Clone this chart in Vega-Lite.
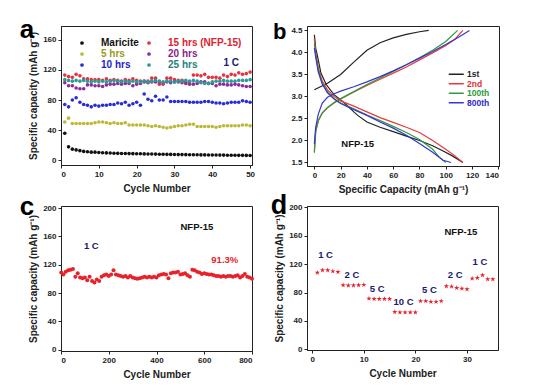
{
  "$schema": "https://vega.github.io/schema/vega-lite/v6.json",
  "padding": {"left": 19, "top": 16, "right": 5, "bottom": 5},
  "background": "white",
  "config": {
    "font": "Liberation Sans",
    "view": {"stroke": "#222", "strokeWidth": 1},
    "axis": {"labelFont": "Liberation Sans", "labelFontWeight": "bold", "labelFontSize": 8, "labelColor": "#222", "titleFont": "Liberation Sans", "titleFontWeight": "bold", "titleFontSize": 10, "titleColor": "#222", "domainColor": "#222", "tickColor": "#222", "tickSize": 3, "ticks": true, "grid": false, "labelPadding": 2, "labelOverlap": false, "tickCount": 20},
    "axisY": {"titlePadding": 4},
    "axisX": {"titlePadding": 5},
    "title": {"font": "Liberation Sans", "fontWeight": "bold", "color": "#000"}
  },
  "datasets": {
    "pa": [
      {"c":1,"M":36,"h5":51,"h10":74,"h15":113,"h20":103,"h25":107},
      {"c":2,"M":18,"h5":56,"h10":71,"h15":111,"h20":99,"h25":106},
      {"c":3,"M":15,"h5":49,"h10":80,"h15":110,"h20":99,"h25":105},
      {"c":4,"M":14,"h5":49,"h10":83,"h15":114,"h20":96,"h25":106},
      {"c":5,"M":13,"h5":49,"h10":77,"h15":112,"h20":95,"h25":105},
      {"c":6,"M":12,"h5":49,"h10":74,"h15":108,"h20":95,"h25":106},
      {"c":7,"M":11.5,"h5":49,"h10":73,"h15":108,"h20":100,"h25":105},
      {"c":8,"M":11,"h5":49,"h10":71,"h15":107,"h20":100,"h25":104},
      {"c":9,"M":11,"h5":50,"h10":73,"h15":107,"h20":99,"h25":105},
      {"c":10,"M":10.5,"h5":51,"h10":72,"h15":107,"h20":99,"h25":104},
      {"c":11,"M":10.2,"h5":51,"h10":73,"h15":106,"h20":98,"h25":105},
      {"c":12,"M":10,"h5":50,"h10":73,"h15":108,"h20":100,"h25":104},
      {"c":13,"M":9.8,"h5":49,"h10":74,"h15":106,"h20":101,"h25":105},
      {"c":14,"M":9.6,"h5":50,"h10":74,"h15":107,"h20":101,"h25":106},
      {"c":15,"M":9.4,"h5":49,"h10":76,"h15":106,"h20":102,"h25":105},
      {"c":16,"M":9.3,"h5":49,"h10":75,"h15":105,"h20":101,"h25":104},
      {"c":17,"M":9.2,"h5":50,"h10":77,"h15":107,"h20":102,"h25":105},
      {"c":18,"M":9.1,"h5":47,"h10":73,"h15":106,"h20":102,"h25":104},
      {"c":19,"M":9,"h5":47,"h10":75,"h15":108,"h20":99,"h25":105},
      {"c":20,"M":8.9,"h5":47,"h10":77,"h15":106,"h20":101,"h25":104},
      {"c":21,"M":8.8,"h5":47,"h10":73,"h15":105,"h20":102,"h25":104},
      {"c":22,"M":8.7,"h5":47,"h10":88,"h15":105,"h20":104,"h25":105},
      {"c":23,"M":8.6,"h5":46,"h10":81,"h15":105,"h20":103,"h25":104},
      {"c":24,"M":8.5,"h5":45,"h10":79,"h15":109,"h20":104,"h25":105},
      {"c":25,"M":8.4,"h5":46,"h10":85,"h15":109,"h20":104,"h25":106},
      {"c":26,"M":8.3,"h5":45,"h10":80,"h15":101,"h20":104,"h25":105},
      {"c":27,"M":8.2,"h5":44,"h10":80,"h15":101,"h20":103,"h25":104},
      {"c":28,"M":8.1,"h5":43,"h10":84,"h15":109,"h20":104,"h25":105},
      {"c":29,"M":8,"h5":44,"h10":78,"h15":109,"h20":103,"h25":105},
      {"c":30,"M":7.9,"h5":45,"h10":78,"h15":107,"h20":104,"h25":104},
      {"c":31,"M":7.8,"h5":46,"h10":78,"h15":106,"h20":104,"h25":105},
      {"c":32,"M":7.8,"h5":46,"h10":78,"h15":106,"h20":103,"h25":105},
      {"c":33,"M":7.7,"h5":47,"h10":78,"h15":104,"h20":102,"h25":106},
      {"c":34,"M":7.6,"h5":48,"h10":77,"h15":104,"h20":101,"h25":105},
      {"c":35,"M":7.6,"h5":48,"h10":77,"h15":113,"h20":101,"h25":106},
      {"c":36,"M":7.5,"h5":45,"h10":77,"h15":113,"h20":102,"h25":105},
      {"c":37,"M":7.4,"h5":45,"h10":77,"h15":112,"h20":104,"h25":103},
      {"c":38,"M":7.4,"h5":45,"h10":78,"h15":114,"h20":104,"h25":102},
      {"c":39,"M":7.3,"h5":45,"h10":78,"h15":110,"h20":102,"h25":102},
      {"c":40,"M":7.3,"h5":45,"h10":77,"h15":110,"h20":102,"h25":104},
      {"c":41,"M":7.2,"h5":44,"h10":76,"h15":110,"h20":99,"h25":105},
      {"c":42,"M":7.1,"h5":45,"h10":76,"h15":109,"h20":101,"h25":105},
      {"c":43,"M":7.1,"h5":46,"h10":75,"h15":113,"h20":101,"h25":106},
      {"c":44,"M":7,"h5":46,"h10":76,"h15":111,"h20":100,"h25":105},
      {"c":45,"M":7,"h5":46,"h10":77,"h15":114,"h20":100,"h25":105},
      {"c":46,"M":6.9,"h5":46,"h10":77,"h15":113,"h20":101,"h25":105},
      {"c":47,"M":6.8,"h5":46,"h10":77,"h15":116,"h20":100,"h25":106},
      {"c":48,"M":6.8,"h5":47,"h10":79,"h15":114,"h20":99,"h25":106},
      {"c":49,"M":6.7,"h5":47,"h10":78,"h15":115,"h20":98,"h25":106},
      {"c":50,"M":6.6,"h5":46,"h10":77,"h15":117,"h20":98,"h25":107}
    ],
    "pb": [
      {"s":"1st","k":"1c","x":0,"y":3.15},{"s":"1st","k":"1c","x":10,"y":3.3},{"s":"1st","k":"1c","x":20,"y":3.5},{"s":"1st","k":"1c","x":30,"y":3.78},{"s":"1st","k":"1c","x":40,"y":4.05},{"s":"1st","k":"1c","x":50,"y":4.22},{"s":"1st","k":"1c","x":60,"y":4.33},{"s":"1st","k":"1c","x":70,"y":4.41},{"s":"1st","k":"1c","x":80,"y":4.47},{"s":"1st","k":"1c","x":87,"y":4.5},
      {"s":"1st","k":"1d","x":0,"y":4.4},{"s":"1st","k":"1d","x":1,"y":4.1},{"s":"1st","k":"1d","x":2.5,"y":3.9},{"s":"1st","k":"1d","x":5,"y":3.53},{"s":"1st","k":"1d","x":9,"y":3.27},{"s":"1st","k":"1d","x":15,"y":3.04},{"s":"1st","k":"1d","x":23,"y":2.85},{"s":"1st","k":"1d","x":30,"y":2.65},{"s":"1st","k":"1d","x":33,"y":2.57},{"s":"1st","k":"1d","x":40,"y":2.42},{"s":"1st","k":"1d","x":50,"y":2.3},{"s":"1st","k":"1d","x":60,"y":2.2},{"s":"1st","k":"1d","x":70,"y":2.1},{"s":"1st","k":"1d","x":80,"y":2.0},{"s":"1st","k":"1d","x":90,"y":1.88},{"s":"1st","k":"1d","x":98,"y":1.76},{"s":"1st","k":"1d","x":105,"y":1.65},{"s":"1st","k":"1d","x":113,"y":1.5},
      {"s":"2nd","k":"2c","x":0,"y":1.75},{"s":"2nd","k":"2c","x":1,"y":2.2},{"s":"2nd","k":"2c","x":3,"y":2.45},{"s":"2nd","k":"2c","x":6,"y":2.62},{"s":"2nd","k":"2c","x":10,"y":2.74},{"s":"2nd","k":"2c","x":15,"y":2.85},{"s":"2nd","k":"2c","x":20,"y":2.94},{"s":"2nd","k":"2c","x":30,"y":3.1},{"s":"2nd","k":"2c","x":40,"y":3.25},{"s":"2nd","k":"2c","x":50,"y":3.39},{"s":"2nd","k":"2c","x":60,"y":3.53},{"s":"2nd","k":"2c","x":70,"y":3.67},{"s":"2nd","k":"2c","x":80,"y":3.83},{"s":"2nd","k":"2c","x":90,"y":3.99},{"s":"2nd","k":"2c","x":100,"y":4.16},{"s":"2nd","k":"2c","x":107,"y":4.3},{"s":"2nd","k":"2c","x":113,"y":4.5},
      {"s":"2nd","k":"2d","x":0,"y":4.3},{"s":"2nd","k":"2d","x":1,"y":4.0},{"s":"2nd","k":"2d","x":3,"y":3.65},{"s":"2nd","k":"2d","x":6,"y":3.35},{"s":"2nd","k":"2d","x":10,"y":3.15},{"s":"2nd","k":"2d","x":15,"y":3.0},{"s":"2nd","k":"2d","x":20,"y":2.9},{"s":"2nd","k":"2d","x":30,"y":2.78},{"s":"2nd","k":"2d","x":40,"y":2.65},{"s":"2nd","k":"2d","x":50,"y":2.52},{"s":"2nd","k":"2d","x":60,"y":2.41},{"s":"2nd","k":"2d","x":70,"y":2.3},{"s":"2nd","k":"2d","x":80,"y":2.18},{"s":"2nd","k":"2d","x":90,"y":2.0},{"s":"2nd","k":"2d","x":100,"y":1.8},{"s":"2nd","k":"2d","x":107,"y":1.65},{"s":"2nd","k":"2d","x":113,"y":1.5},
      {"s":"100th","k":"3c","x":0,"y":1.72},{"s":"100th","k":"3c","x":1,"y":2.2},{"s":"100th","k":"3c","x":3,"y":2.45},{"s":"100th","k":"3c","x":6,"y":2.63},{"s":"100th","k":"3c","x":10,"y":2.75},{"s":"100th","k":"3c","x":15,"y":2.86},{"s":"100th","k":"3c","x":20,"y":2.95},{"s":"100th","k":"3c","x":30,"y":3.11},{"s":"100th","k":"3c","x":40,"y":3.27},{"s":"100th","k":"3c","x":50,"y":3.42},{"s":"100th","k":"3c","x":60,"y":3.57},{"s":"100th","k":"3c","x":70,"y":3.72},{"s":"100th","k":"3c","x":80,"y":3.88},{"s":"100th","k":"3c","x":90,"y":4.05},{"s":"100th","k":"3c","x":100,"y":4.25},{"s":"100th","k":"3c","x":109,"y":4.5},
      {"s":"100th","k":"3d","x":0,"y":4.2},{"s":"100th","k":"3d","x":1,"y":3.95},{"s":"100th","k":"3d","x":3,"y":3.6},{"s":"100th","k":"3d","x":6,"y":3.3},{"s":"100th","k":"3d","x":10,"y":3.1},{"s":"100th","k":"3d","x":15,"y":2.95},{"s":"100th","k":"3d","x":20,"y":2.85},{"s":"100th","k":"3d","x":30,"y":2.72},{"s":"100th","k":"3d","x":40,"y":2.58},{"s":"100th","k":"3d","x":50,"y":2.45},{"s":"100th","k":"3d","x":60,"y":2.32},{"s":"100th","k":"3d","x":70,"y":2.18},{"s":"100th","k":"3d","x":80,"y":2.02},{"s":"100th","k":"3d","x":90,"y":1.8},{"s":"100th","k":"3d","x":95,"y":1.62},{"s":"100th","k":"3d","x":100,"y":1.5},
      {"s":"800th","k":"4c","x":0,"y":1.92},{"s":"800th","k":"4c","x":1,"y":2.3},{"s":"800th","k":"4c","x":3,"y":2.6},{"s":"800th","k":"4c","x":6,"y":2.85},{"s":"800th","k":"4c","x":10,"y":2.98},{"s":"800th","k":"4c","x":15,"y":3.06},{"s":"800th","k":"4c","x":20,"y":3.12},{"s":"800th","k":"4c","x":30,"y":3.22},{"s":"800th","k":"4c","x":40,"y":3.33},{"s":"800th","k":"4c","x":50,"y":3.45},{"s":"800th","k":"4c","x":60,"y":3.58},{"s":"800th","k":"4c","x":70,"y":3.72},{"s":"800th","k":"4c","x":80,"y":3.87},{"s":"800th","k":"4c","x":90,"y":4.02},{"s":"800th","k":"4c","x":100,"y":4.18},{"s":"800th","k":"4c","x":110,"y":4.35},{"s":"800th","k":"4c","x":118,"y":4.5},
      {"s":"800th","k":"4d","x":0,"y":4.1},{"s":"800th","k":"4d","x":1,"y":3.9},{"s":"800th","k":"4d","x":3,"y":3.55},{"s":"800th","k":"4d","x":6,"y":3.28},{"s":"800th","k":"4d","x":10,"y":3.08},{"s":"800th","k":"4d","x":15,"y":2.94},{"s":"800th","k":"4d","x":20,"y":2.84},{"s":"800th","k":"4d","x":30,"y":2.7},{"s":"800th","k":"4d","x":40,"y":2.57},{"s":"800th","k":"4d","x":50,"y":2.42},{"s":"800th","k":"4d","x":60,"y":2.28},{"s":"800th","k":"4d","x":70,"y":2.12},{"s":"800th","k":"4d","x":80,"y":1.93},{"s":"800th","k":"4d","x":90,"y":1.73},{"s":"800th","k":"4d","x":98,"y":1.55},{"s":"800th","k":"4d","x":104,"y":1.5}
    ],
    "pc": [
      {"c":1,"v":109},{"c":10,"v":106},{"c":20,"v":110},{"c":30,"v":112},{"c":40,"v":113},{"c":50,"v":114},{"c":60,"v":103},{"c":70,"v":108},{"c":80,"v":102},{"c":90,"v":101},
      {"c":100,"v":102},{"c":110,"v":98},{"c":120,"v":103},{"c":130,"v":97},{"c":140,"v":95},{"c":150,"v":99},{"c":160,"v":97},{"c":170,"v":103},{"c":180,"v":105},{"c":190,"v":106},
      {"c":200,"v":104},{"c":210,"v":106},{"c":220,"v":112},{"c":230,"v":106},{"c":240,"v":105},{"c":250,"v":104},{"c":260,"v":103},{"c":270,"v":104},{"c":280,"v":102},{"c":290,"v":104},
      {"c":300,"v":102},{"c":310,"v":101},{"c":320,"v":100},{"c":330,"v":101},{"c":340,"v":102},{"c":350,"v":103},{"c":360,"v":102},{"c":370,"v":103},{"c":380,"v":102},{"c":390,"v":103},
      {"c":400,"v":102},{"c":410,"v":105},{"c":420,"v":106},{"c":430,"v":107},{"c":440,"v":106},{"c":450,"v":101},{"c":460,"v":108},{"c":470,"v":109},{"c":480,"v":109},{"c":490,"v":110},
      {"c":500,"v":106},{"c":510,"v":107},{"c":520,"v":108},{"c":530,"v":105},{"c":540,"v":103},{"c":550,"v":113},{"c":560,"v":112},{"c":570,"v":110},{"c":580,"v":109},{"c":590,"v":107},
      {"c":600,"v":108},{"c":610,"v":107},{"c":620,"v":106},{"c":630,"v":106},{"c":640,"v":105},{"c":650,"v":104},{"c":660,"v":104},{"c":670,"v":103},{"c":680,"v":104},{"c":690,"v":103},
      {"c":700,"v":104},{"c":710,"v":104},{"c":720,"v":103},{"c":730,"v":104},{"c":740,"v":105},{"c":750,"v":102},{"c":760,"v":104},{"c":770,"v":107},{"c":780,"v":103},{"c":790,"v":102},{"c":800,"v":100}
    ],
    "pd": [
      {"c":1,"v":108},{"c":2,"v":111.5},{"c":3,"v":111.5},{"c":4,"v":110},{"c":5,"v":109},
      {"c":6,"v":90.5},{"c":7,"v":90},{"c":8,"v":90},{"c":9,"v":90.5},{"c":10,"v":91},
      {"c":11,"v":71.5},{"c":12,"v":71},{"c":13,"v":71},{"c":14,"v":71},{"c":15,"v":71},
      {"c":16,"v":52.7},{"c":17,"v":52},{"c":18,"v":52},{"c":19,"v":52},{"c":20,"v":52},
      {"c":21,"v":68},{"c":22,"v":68},{"c":23,"v":67},{"c":24,"v":67},{"c":25,"v":68},
      {"c":26,"v":89},{"c":27,"v":88.5},{"c":28,"v":86.6},{"c":29,"v":85.6},{"c":30,"v":84.7},
      {"c":31,"v":99.8},{"c":32,"v":100.7},{"c":33,"v":104.5},{"c":34,"v":98.8},{"c":35,"v":98.8}
    ]
  },
  "columns": 2,
  "spacing": {"row": 40, "column": 55},
  "bounds": "flush",
  "resolve": {"scale": {"color": "independent"}, "legend": {"color": "independent"}},
  "concat": [
    {
      "width": 191, "height": 139,
      "title": {"text": "a", "anchor": "start", "frame": "bounds", "fontSize": 26, "baseline": "alphabetic", "offset": -6, "dx": -9, "dy": 32},
      "layer": [
        {
          "data": {"name": "pa"},
          "transform": [{"fold": ["M", "h5", "h10", "h15", "h20", "h25"], "as": ["series", "cap"]}],
          "mark": {"type": "circle", "size": 13, "opacity": 1},
          "encoding": {
            "x": {"field": "c", "type": "quantitative", "scale": {"domain": [0, 50.5], "nice": false}, "axis": {"title": "Cycle Number", "values": [0, 10, 20, 30, 40, 50]}},
            "y": {"field": "cap", "type": "quantitative", "scale": {"domain": [-6, 178], "nice": false}, "axis": {"title": "Specific capacity (mAh g⁻¹)", "values": [0, 40, 80, 120, 160]}},
            "color": {"field": "series", "type": "nominal",
              "scale": {"domain": ["M", "h5", "h10", "h15", "h20", "h25"], "range": ["#111111", "#bdb83a", "#2b2bd6", "#e8313f", "#8e2a9e", "#2a9c94"]},
              "legend": {"orient": "none", "legendX": 16, "legendY": 12, "columns": 2, "title": null, "symbolType": "circle", "symbolSize": 14, "labelFontSize": 10, "labelFontWeight": "bold", "labelOffset": 14, "rowPadding": 1, "columnPadding": 5,
                "labelExpr": "datum.value == 'M' ? 'Maricite' : datum.value == 'h5' ? '5 hrs' : datum.value == 'h10' ? '10 hrs' : datum.value == 'h15' ? '15 hrs (NFP-15)' : datum.value == 'h20' ? '20 hrs' : '25 hrs'",
                "labelColor": {"expr": "datum.value == 'M' ? '#111111' : datum.value == 'h5' ? '#9a9a22' : datum.value == 'h10' ? '#1e1ecc' : datum.value == 'h15' ? '#e02030' : datum.value == 'h20' ? '#8a1e8a' : '#1f7f7a'"}}}
          }
        },
        {
          "data": {"values": [{"c": 45, "cap": 129, "t": "1 C"}]},
          "mark": {"type": "text", "fontSize": 10, "fontWeight": "bold", "color": "#1b1b6e"},
          "encoding": {"x": {"field": "c", "type": "quantitative"}, "y": {"field": "cap", "type": "quantitative"}, "text": {"field": "t"}}
        }
      ]
    },
    {
      "width": 192, "height": 140,
      "title": {"text": "b", "anchor": "start", "frame": "bounds", "fontSize": 22, "baseline": "alphabetic", "offset": -4, "dx": -18, "dy": 31},
      "layer": [
        {
          "data": {"name": "pb"},
          "mark": {"type": "line", "strokeWidth": 1.2},
          "encoding": {
            "x": {"field": "x", "type": "quantitative", "scale": {"domain": [-5.6, 140.5], "nice": false}, "axis": {"title": "Specific Capacity (mAh g⁻¹)", "values": [0, 20, 40, 60, 80, 100, 120, 140]}},
            "y": {"field": "y", "type": "quantitative", "scale": {"domain": [1.42, 4.6], "nice": false, "zero": false}, "axis": {"title": null, "values": [1.5, 2, 2.5, 3, 3.5, 4, 4.5], "format": ".1f"}},
            "detail": {"field": "k"},
            "color": {"field": "s", "type": "nominal",
              "scale": {"domain": ["1st", "2nd", "100th", "800th"], "range": ["#222222", "#e83a3a", "#2e9a3e", "#3535d0"]},
              "legend": {"orient": "none", "legendX": 145, "legendY": 44, "title": null, "symbolType": "M-2.5,0H2.5", "symbolSize": 36, "symbolStrokeWidth": 1.5, "symbolFillColor": "transparent", "labelFontSize": 8.5, "labelFontWeight": "bold", "labelOffset": 6.5, "rowPadding": 0.5,
                "labelColor": {"expr": "datum.value == '1st' ? '#222222' : datum.value == '2nd' ? '#e03030' : datum.value == '100th' ? '#2a9a3a' : '#2a2ad0'"}}}
          }
        },
        {
          "data": {"values": [{"x": 33, "y": 1.91, "t": "NFP-15"}]},
          "mark": {"type": "text", "fontSize": 9.5, "fontWeight": "bold", "color": "#111"},
          "encoding": {"x": {"field": "x", "type": "quantitative"}, "y": {"field": "y", "type": "quantitative"}, "text": {"field": "t"}}
        }
      ]
    },
    {
      "width": 191, "height": 145,
      "title": {"text": "c", "anchor": "start", "frame": "bounds", "fontSize": 26, "baseline": "alphabetic", "offset": -6, "dx": -9, "dy": 31},
      "layer": [
        {
          "data": {"name": "pc"},
          "mark": {"type": "circle", "size": 16, "opacity": 1, "color": "#e8222a"},
          "encoding": {
            "x": {"field": "c", "type": "quantitative", "scale": {"domain": [0, 800], "nice": false}, "axis": {"title": "Cycle Number", "values": [0, 200, 400, 600, 800]}},
            "y": {"field": "v", "type": "quantitative", "scale": {"domain": [-2, 203], "nice": false}, "axis": {"title": "Specific capacity (mAh g⁻¹)", "values": [0, 40, 80, 120, 160, 200]}}
          }
        },
        {
          "data": {"values": [{"c": 569, "v": 173, "t": "NFP-15", "col": "#111111"}, {"c": 127, "v": 146, "t": "1 C", "col": "#1b1b6e"}, {"c": 686, "v": 127, "t": "91.3%", "col": "#e8222a"}]},
          "mark": {"type": "text", "fontSize": 9.5, "fontWeight": "bold"},
          "encoding": {"x": {"field": "c", "type": "quantitative"}, "y": {"field": "v", "type": "quantitative"}, "text": {"field": "t"}, "color": {"field": "col", "type": "nominal", "scale": null}}
        }
      ]
    },
    {
      "width": 191, "height": 144,
      "title": {"text": "d", "anchor": "start", "frame": "bounds", "fontSize": 27, "baseline": "alphabetic", "offset": -6, "dx": -4, "dy": 32},
      "layer": [
        {
          "data": {"name": "pd"},
          "mark": {"type": "point", "filled": true, "size": 30, "opacity": 1, "color": "#e8222a", "shape": "M0,-1L0.22,-0.31L0.95,-0.31L0.36,0.12L0.59,0.81L0,0.38L-0.59,0.81L-0.36,0.12L-0.95,-0.31L-0.22,-0.31Z"},
          "encoding": {
            "x": {"field": "c", "type": "quantitative", "scale": {"domain": [-1, 36], "nice": false}, "axis": {"title": "Cycle Number", "values": [0, 10, 20, 30]}},
            "y": {"field": "v", "type": "quantitative", "scale": {"domain": [-1, 202], "nice": false}, "axis": {"title": "Specific capacity (mAh g⁻¹)", "values": [0, 40, 80, 120, 160, 200]}}
          }
        },
        {
          "data": {"values": [
            {"c": 2.6, "v": 133, "t": "1 C", "col": "#1b1b6e"}, {"c": 7.7, "v": 104.5, "t": "2 C", "col": "#1b1b6e"}, {"c": 12.6, "v": 85.6, "t": "5 C", "col": "#1b1b6e"}, {"c": 17.7, "v": 66.8, "t": "10 C", "col": "#1b1b6e"},
            {"c": 22.7, "v": 83.8, "t": "5 C", "col": "#1b1b6e"}, {"c": 27.7, "v": 104.5, "t": "2 C", "col": "#1b1b6e"}, {"c": 32.5, "v": 123, "t": "1 C", "col": "#1b1b6e"}, {"c": 28.8, "v": 165.6, "t": "NFP-15", "col": "#111111"}]},
          "mark": {"type": "text", "fontSize": 9.5, "fontWeight": "bold"},
          "encoding": {"x": {"field": "c", "type": "quantitative"}, "y": {"field": "v", "type": "quantitative"}, "text": {"field": "t"}, "color": {"field": "col", "type": "nominal", "scale": null}}
        }
      ]
    }
  ]
}
